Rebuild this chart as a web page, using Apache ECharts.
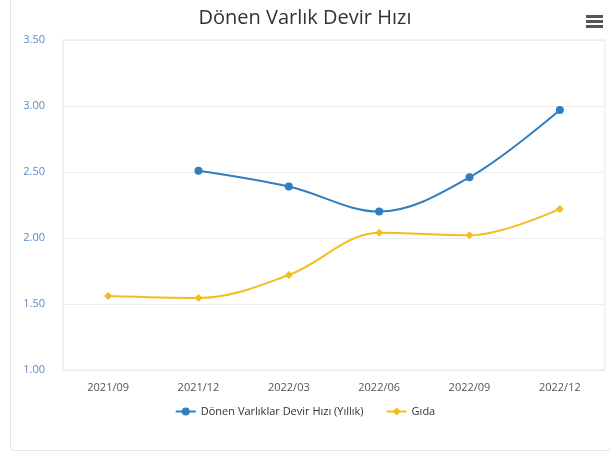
<!DOCTYPE html>
<html>
<head>
<meta charset="utf-8">
<script src="https://cdn.jsdelivr.net/npm/echarts@6/dist/echarts.min.js"></script>
<style>
html, body { margin: 0; padding: 0; background: #fff; }
#chart { width: 610px; height: 454px; }
</style>
</head>
<body>
<div id="chart"></div>
<script>
var categories = ['2021/09', '2021/12', '2022/03', '2022/06', '2022/09', '2022/12'];
var devirHizi = [null, 2.51, 2.39, 2.20, 2.46, 2.97];
var gida = [1.56, 1.545, 1.72, 2.04, 2.02, 2.22];
var yTicks = [1.0, 1.5, 2.0, 2.5, 3.0, 3.5];

var myChart = echarts.init(document.getElementById('chart'));
var option = {
    backgroundColor: '#fff',
    title: {
        text: 'Dönen Varlık Devir Hızı',
        left: 'center',
        top: 3,
        textStyle: { fontFamily: 'Open Sans', fontSize: 20, fontWeight: 'normal', color: '#333' }
    },
    graphic: [
        {
            type: 'rect', left: 8, top: -10, z: -1,
            shape: { width: 600, height: 458, r: 4 },
            style: { fill: 'none', stroke: '#e3e3e3', lineWidth: 1 }
        },
        { type: 'rect', left: 586, top: 15, shape: { width: 17, height: 3 }, style: { fill: '#555' } },
        { type: 'rect', left: 586, top: 20, shape: { width: 17, height: 3 }, style: { fill: '#555' } },
        { type: 'rect', left: 586, top: 25, shape: { width: 17, height: 3 }, style: { fill: '#555' } }
    ],
    legend: {
        bottom: 32,
        left: 'center',
        itemWidth: 20,
        itemHeight: 10,
        itemGap: 22,
        textStyle: { fontFamily: 'Open Sans', fontSize: 11, color: '#333' },
        data: ['Dönen Varlıklar Devir Hızı (Yıllık)', 'Gıda']
    },
    grid: {
        left: 63, right: 5, top: 40, bottom: 84,
        show: true, borderColor: '#dfe6f2', borderWidth: 1
    },
    xAxis: {
        type: 'category',
        data: categories,
        boundaryGap: true,
        axisLine: { show: false },
        axisTick: { show: false },
        axisLabel: { fontFamily: 'Open Sans', fontSize: 11, color: '#555', margin: 12 }
    },
    yAxis: {
        type: 'value',
        min: yTicks[0],
        max: yTicks[yTicks.length - 1],
        interval: 0.5,
        axisLine: { show: false },
        axisTick: { show: false },
        splitLine: { lineStyle: { color: '#ececec' } },
        axisLabel: {
            fontFamily: 'Open Sans', fontSize: 11, color: '#5b8ac6', margin: 18,
            formatter: function (v) { return v.toFixed(2); }
        }
    },
    series: [
        {
            name: 'Dönen Varlıklar Devir Hızı (Yıllık)',
            type: 'line',
            smooth: 0.35,
            data: devirHizi,
            symbol: 'circle',
            symbolSize: 8,
            itemStyle: { color: '#2f7ec1' },
            lineStyle: { width: 2, color: '#2f7ec1' }
        },
        {
            name: 'Gıda',
            type: 'line',
            smooth: 0.35,
            data: gida,
            symbol: 'diamond',
            symbolSize: 8,
            itemStyle: { color: '#f2be1a' },
            lineStyle: { width: 2, color: '#f2be1a' }
        }
    ]
};
myChart.setOption(option);
</script>
</body>
</html>
